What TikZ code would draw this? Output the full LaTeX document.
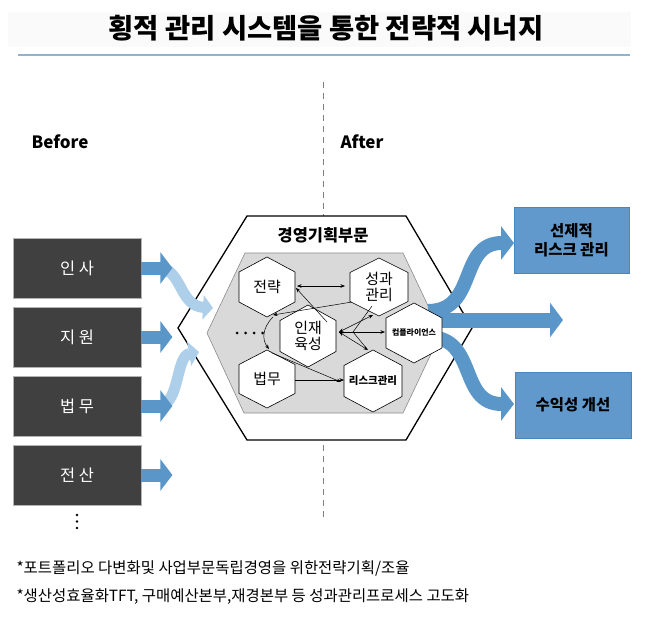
\documentclass[tikz,border=0pt]{standalone}
\usepackage{fontspec}
\setmainfont{Noto Sans CJK KR}
\usetikzlibrary{arrows.meta,calc}
\definecolor{darkbox}{HTML}{404040}
\definecolor{bluebox}{HTML}{6199CC}
\definecolor{blueboxline}{HTML}{4A85BB}
\definecolor{bluearrow}{HTML}{5A96C8}
\definecolor{lightarrow}{HTML}{AECFEA}
\definecolor{grayhex}{HTML}{D9D9D9}
\definecolor{ruleblue}{HTML}{8FB3D0}
\newcommand{\hexpath}[3]{([shift={(0,-#3)}]#1) -- ([shift={(#2,-#3/2)}]#1) -- ([shift={(#2,#3/2)}]#1) -- ([shift={(0,#3)}]#1) -- ([shift={(-#2,#3/2)}]#1) -- ([shift={(-#2,-#3/2)}]#1) -- cycle}
\tikzset{
  hexst/.style={draw=black, fill=white, line width=0.6bp},
  hexlbl/.style={inner sep=0pt, align=center, font=\fontsize{15}{16.5}\selectfont},
  tarr/.style={draw=black, line width=0.5bp, -{Stealth[length=4.5bp,width=3.5bp]}},
  tdarr/.style={draw=black, line width=0.5bp, {Stealth[length=4.5bp,width=3.5bp]}-{Stealth[length=4.5bp,width=3.5bp]}},
  leftbox/.style={draw=black!30, fill=darkbox, line width=0.8bp, text=white, font=\fontsize{16.5}{18}\selectfont},
  rightbox/.style={draw=blueboxline, fill=bluebox, line width=0.8bp, align=center, font=\fontsize{15.5}{19}\selectfont\bfseries},
  bigarrow/.style={draw=bluearrow, line width=15bp, -{Triangle[width=34bp,length=13bp]}},
  smallarrow/.style={draw=bluearrow, line width=13bp, -{Triangle[width=31bp,length=12bp]}},
  lightcurve/.style={draw=lightarrow, line width=11bp, -{Triangle[width=24bp,length=10bp]}},
}
\begin{document}
\begin{tikzpicture}[x=1bp,y=-1bp]
\useasboundingbox (0,0) rectangle (652,627);
\fill[white] (0,0) rectangle (652,627);
% title
\fill[black!2] (8,12) rectangle (631,47);
\node[font=\fontsize{27.5}{30}\selectfont\bfseries] (title) at (326,28) {횡적 관리 시스템을 통한 전략적 시너지};
\coordinate (ruleL) at (18,55);
\coordinate (ruleR) at (630,55);
\draw[ruleblue, line width=1.5bp] (ruleL) -- (ruleR);
% divider
\coordinate (divT) at (323,82);
\coordinate (divB) at (323,522);
\draw[black!50, line width=0.8bp, dash pattern=on 6bp off 5bp] (divT) -- (divB);
\node[font=\fontsize{17}{19}\selectfont\bfseries, anchor=west] (before) at (28,142) {Before};
\node[font=\fontsize{17}{19}\selectfont\bfseries, anchor=west] (after) at (337,142) {After};
% outer hexagon
\filldraw[fill=white, draw=black, line width=1.3bp] (247,216) -- (406,216) -- (472,328) -- (406,440) -- (247,440) -- (178,328) -- cycle;
\node[font=\fontsize{16.5}{18}\selectfont\bfseries] (dept) at (323,235) {경영기획부문};
% gray hexagon
\filldraw[fill=grayhex, draw=black!45, line width=0.6bp] (245,253) -- (403,253) -- (441,333) -- (403,413) -- (244,413) -- (207,333) -- cycle;
% dots
\foreach \dx in {237,245.5,254,262.5} \fill (\dx,333) circle (1.5bp);
% big right arrows
\coordinate (oa1) at (428,311);
\coordinate (oa2) at (428,320);
\coordinate (oa3) at (428,337);
\coordinate (mid) at (563,320);
% inner hexagons
\coordinate (cJ) at (267,287);
\coordinate (cS) at (379,287);
\coordinate (cI) at (308,336);
\coordinate (cB) at (267,379);
\coordinate (cR) at (373,381);
\coordinate (cC) at (414,333);
\filldraw[hexst] \hexpath{cJ}{28}{30};
\filldraw[hexst] \hexpath{cS}{29}{29};
\filldraw[hexst] \hexpath{cI}{28}{31};
\filldraw[hexst] \hexpath{cB}{28}{29};
\filldraw[hexst] \hexpath{cR}{29}{31};
\node[hexlbl] (jr) at (cJ) {전략};
\node[hexlbl] (sg) at (cS) {성과\\관리};
\node[hexlbl] (in) at (cI) {인재\\육성};
\node[hexlbl] (bw) at (cB) {법무};
\node[hexlbl, font=\fontsize{10.5}{12}\selectfont\bfseries] (rk) at (cR) {리스크관리};
% right arrows (under compliance hex)
\node[inner sep=0pt, minimum size=0pt] (rt1) at (514,243) {};
\node[inner sep=0pt, minimum size=0pt] (rt2) at (514,404) {};
\draw[bigarrow, line width=14bp, -{Triangle[width=33bp,length=13bp]}] (oa1) .. controls (478,311) and (458,243) .. (rt1.center);
\draw[bigarrow] (oa2) -- (mid);
\draw[bigarrow, line width=14bp, -{Triangle[width=33bp,length=13bp]}] (oa3) .. controls (478,337) and (458,404) .. (rt2.center);
\filldraw[hexst] \hexpath{cC}{28}{30};
\node[hexlbl, font=\fontsize{8}{9}\selectfont\bfseries] (cp) at (cC) {컴플라이언스};
% inner connectors
\draw[tdarr] ([shift={(30,-1)}]jr.center) -- ([shift={(-34,-1)}]sg.center);
\draw[tarr] ([shift={(19,-14)}]in.center) -- ([shift={(29,1)}]jr.center);
\draw[tarr] ([shift={(-27,15)}]sg.center) -- ([shift={(6,28)}]jr.center);
\draw[tarr] ([shift={(6,30)}]jr.center) .. controls (262,328) and (262,340) .. ([shift={(2,-30)}]bw.center);
\draw[tarr] ([shift={(5,-26)}]bw.center) -- ([shift={(-32,1)}]rk.center);
\draw[tarr] ([shift={(28,1)}]bw.center) -- ([shift={(-29,-1)}]rk.center);
\draw[tdarr] ([shift={(31,-4)}]in.center) -- ([shift={(-6,28)}]sg.center);
\draw[tdarr] ([shift={(31,-4)}]in.center) -- ([shift={(-5,-31)}]rk.center);
\draw[tarr] ([shift={(31,-4)}]in.center) -- ([shift={(-29,-1)}]cp.center);
\draw[line width=0.5bp] ([shift={(45,-4)}]in.center) -- ([shift={(-7,19)}]sg.center);
\draw[line width=0.5bp] ([shift={(45,-4)}]in.center) -- ([shift={(-6,-32)}]rk.center);
% left boxes
\node[leftbox, minimum width=128bp, minimum height=60bp] (b1) at (77,268) {인 사};
\node[leftbox, minimum width=128bp, minimum height=60bp] (b2) at (77,337) {지 원};
\node[leftbox, minimum width=128bp, minimum height=60bp] (b3) at (77,406) {법 무};
\node[leftbox, minimum width=128bp, minimum height=60bp] (b4) at (77,475) {전 산};
\foreach \dy in {515,521.5,528} \fill (77,\dy) circle (1.3bp);
% light curves
\coordinate (lc1) at (213,308);
\coordinate (lc2) at (199,352);
\draw[lightcurve] ([shift={(20,0)}]b1.east) .. controls (182,272) and (180,306) .. (lc1);
\draw[lightcurve] ([shift={(20,0)}]b3.east) .. controls (180,400) and (176,356) .. (lc2);
% blue arrows
\foreach \b in {b1,b2,b3,b4}
  \draw[smallarrow] (\b.east) -- ([shift={(31,0)}]\b.east);
% right boxes
\node[rightbox, minimum width=115bp, minimum height=66bp] (g1) at (571.5,240) {선제적\\리스크 관리};
\node[rightbox, minimum width=116bp, minimum height=66bp] (g2) at (573,405) {수익성 개선};
% footer
\node[anchor=west, font=\fontsize{15.5}{17}\selectfont] (f1) at (13,568) {*포트폴리오 다변화및 사업부문독립경영을 위한전략기획/조율};
\node[anchor=west, font=\fontsize{15.5}{17}\selectfont] (f2) at (13,597) {*생산성효율화TFT, 구매예산본부,재경본부 등 성과관리프로세스 고도화};
\end{tikzpicture}
\end{document}
